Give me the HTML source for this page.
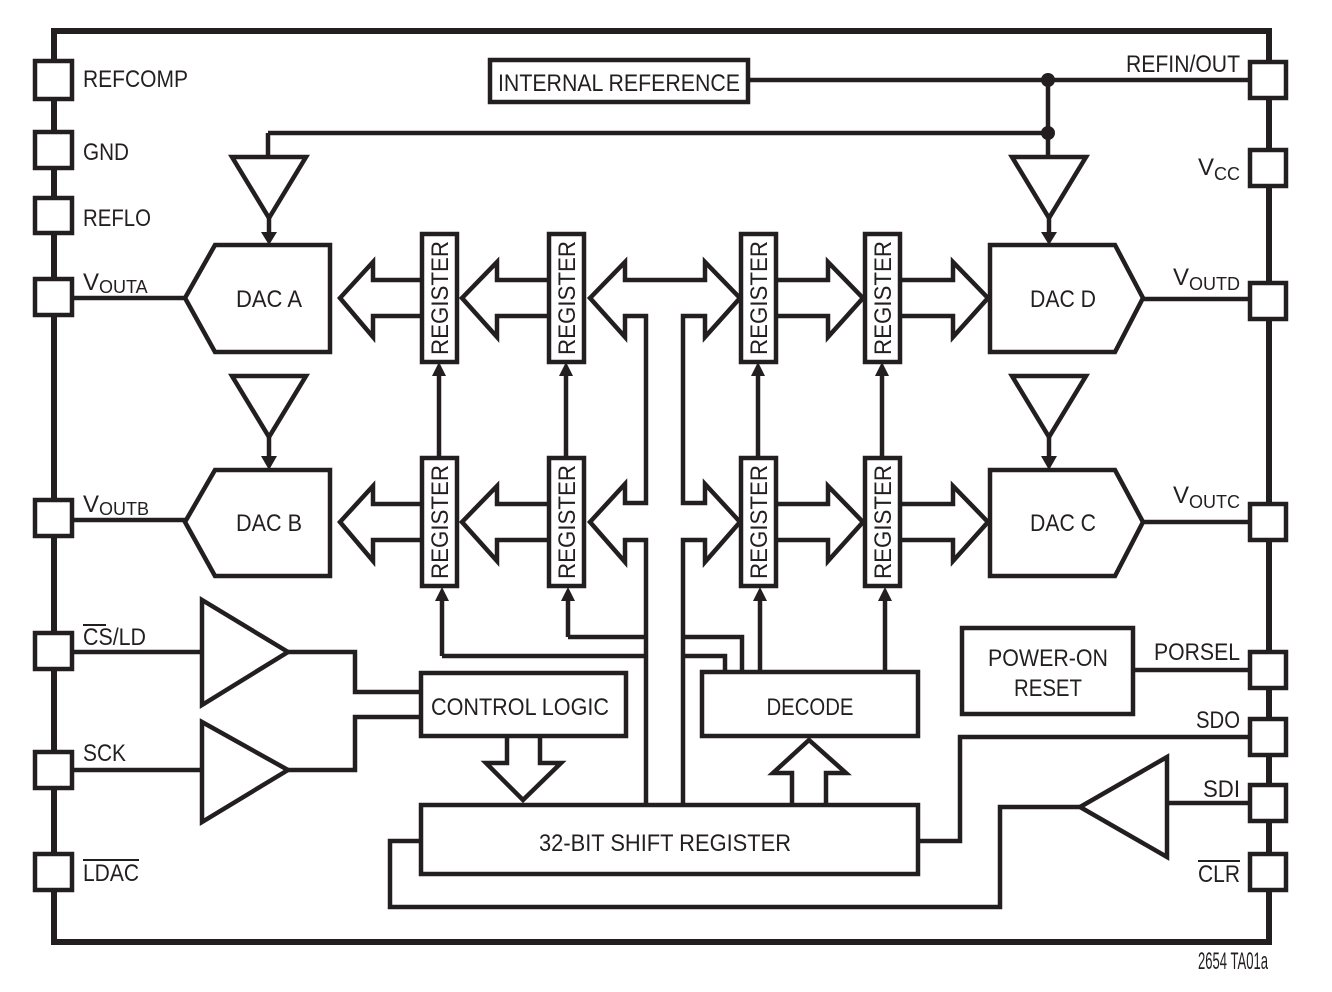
<!DOCTYPE html>
<html><head><meta charset="utf-8"><style>
html,body{margin:0;padding:0;background:#fff}
svg{display:block}
text{font-family:"Liberation Sans Narrow","Liberation Sans",sans-serif;fill:#231f20;font-size:24px}
</style></head><body>
<svg width="1332" height="992" viewBox="0 0 1332 992" xmlns="http://www.w3.org/2000/svg">
<g fill="none" stroke="#231f20" stroke-width="4.5" stroke-linejoin="miter">
<rect x="54" y="31" width="1215" height="911" stroke-width="6"/>
<g fill="#fff">
<rect x="35" y="61" width="37" height="38"/>
<rect x="35" y="132" width="37" height="36"/>
<rect x="35" y="198" width="37" height="35"/>
<rect x="35" y="279" width="37" height="36"/>
<rect x="35" y="500" width="37" height="36"/>
<rect x="35" y="633" width="37" height="36"/>
<rect x="35" y="752" width="37" height="36"/>
<rect x="35" y="854" width="37" height="36"/>
<rect x="1250" y="62" width="36" height="36"/>
<rect x="1250" y="150" width="36" height="36"/>
<rect x="1250" y="283" width="36" height="36"/>
<rect x="1250" y="504" width="36" height="36"/>
<rect x="1250" y="652" width="36" height="36"/>
<rect x="1250" y="719" width="36" height="36"/>
<rect x="1250" y="785" width="36" height="36"/>
<rect x="1250" y="854" width="36" height="36"/>
</g>
<rect x="490" y="60" width="258" height="42"/>
<path d="M748 80H1250M1048 80V157M268 133H1048M268 133V157"/>
<path d="M232 157H306L269 218Z M1012 157H1086L1049 218Z M232 376H306L269 437Z M1012 376H1086L1049 437Z"/>
<path d="M269 218V236M1049 218V236M269 437V460M1049 437V460"/>
<path d="M185 298L215 245H330V352H215Z"/>
<path d="M185 522L215 470H330V576H215Z"/>
<path d="M990 245H1115L1143 298L1115 352H990Z"/>
<path d="M990 470H1115L1143 522L1115 576H990Z"/>
<path d="M72 298H185M72 520H185M1143 299H1250M1143 522H1250"/>
<g fill="#fff">
<rect x="422" y="234" width="35" height="128"/>
<rect x="549" y="234" width="35" height="128"/>
<rect x="741" y="234" width="35" height="128"/>
<rect x="865" y="234" width="35" height="128"/>
<rect x="422" y="458" width="35" height="128"/>
<rect x="549" y="458" width="35" height="128"/>
<rect x="741" y="458" width="35" height="128"/>
<rect x="865" y="458" width="35" height="128"/>
</g>
<path d="M422 280H373V262L340 298L373 337V316H422"/>
<path d="M549 280H497V262L462 298L497 337V316H549"/>
<path d="M776 280H828V262L863 298L828 337V316H776"/>
<path d="M900 280H953V262L988 298L953 337V316H900"/>
<path d="M422 504H373V486L340 522L373 561V540H422"/>
<path d="M549 504H497V486L462 522L497 561V540H549"/>
<path d="M776 504H828V486L863 522L828 561V540H776"/>
<path d="M900 504H953V486L988 522L953 561V540H900"/>
<path d="M646 805V540H625V562L590 522L625 484V503H646V316H625V337L590 298L625 262V280H705V262L740 298L705 337V316H683V503H705V484L740 522L705 562V540H683V805"/>
<path d="M439 458V375M566 458V375M758 458V375M882 458V375"/>
<path d="M442 656V600M442 656H646M568 637V600M568 637H646M683 637H742V672M683 656H725V672M760 672V600M885 672V600"/>
<rect x="421" y="673" width="205" height="63"/>
<rect x="702" y="672" width="216" height="64"/>
<rect x="421" y="805" width="497" height="69"/>
<path d="M507 736V763H486L523 800L561 763H540V736"/>
<path d="M792 805V773H773L809 740L846 773H826V805"/>
<path d="M421 841H390V907H1000V807H1080"/>
<path d="M918 841H960V737H1250"/>
<path d="M1167 757V857L1080 807Z M1167 803H1250"/>
<path d="M202 600V705L288 652Z M202 722V822L288 770Z"/>
<path d="M72 652H202M72 770H202M288 652H355V692H421M288 770H355V717H421"/>
<rect x="962" y="628" width="171" height="86"/>
<path d="M1133 670H1250"/>
</g>
<g fill="#231f20">
<circle cx="1048" cy="80" r="7"/><circle cx="1048" cy="133" r="7"/>
<path d="M261 232H277L269 245Z M1041 232H1057L1049 245Z M261 456H277L269 470Z M1041 456H1057L1049 470Z"/>
<path d="M432 376H446L439 362Z M559 376H573L566 362Z M751 376H765L758 362Z M875 376H889L882 362Z"/>
<path d="M435 601H449L442 587Z M561 601H575L568 587Z M753 601H767L760 587Z M878 601H892L885 587Z"/>
</g>
<text x="619" y="91" text-anchor="middle" textLength="242" lengthAdjust="spacingAndGlyphs">INTERNAL REFERENCE</text>
<text x="83" y="87" textLength="105" lengthAdjust="spacingAndGlyphs">REFCOMP</text>
<text x="83" y="160" textLength="46" lengthAdjust="spacingAndGlyphs">GND</text>
<text x="83" y="226" textLength="68" lengthAdjust="spacingAndGlyphs">REFLO</text>
<text x="83" y="290">V<tspan font-size="18" dy="3">OUTA</tspan></text>
<text x="83" y="512">V<tspan font-size="18" dy="3">OUTB</tspan></text>
<text x="83" y="645" textLength="63" lengthAdjust="spacingAndGlyphs">CS/LD</text>
<line x1="83" y1="625" x2="106" y2="625" stroke="#231f20" stroke-width="2"/>
<text x="83" y="761" textLength="43" lengthAdjust="spacingAndGlyphs">SCK</text>
<text x="83" y="881" textLength="56" lengthAdjust="spacingAndGlyphs">LDAC</text>
<line x1="83" y1="860" x2="139" y2="860" stroke="#231f20" stroke-width="2"/>
<text x="1240" y="72" text-anchor="end" textLength="114" lengthAdjust="spacingAndGlyphs">REFIN/OUT</text>
<text x="1240" y="175" text-anchor="end">V<tspan font-size="18" dy="5">CC</tspan></text>
<text x="1240" y="285" text-anchor="end">V<tspan font-size="18" dy="5">OUTD</tspan></text>
<text x="1240" y="503" text-anchor="end">V<tspan font-size="18" dy="5">OUTC</tspan></text>
<text x="1240" y="660" text-anchor="end" textLength="86" lengthAdjust="spacingAndGlyphs">PORSEL</text>
<text x="1240" y="728" text-anchor="end" textLength="44" lengthAdjust="spacingAndGlyphs">SDO</text>
<text x="1240" y="797" text-anchor="end" textLength="37" lengthAdjust="spacingAndGlyphs">SDI</text>
<text x="1240" y="882" text-anchor="end" textLength="42" lengthAdjust="spacingAndGlyphs">CLR</text>
<line x1="1198" y1="861" x2="1240" y2="861" stroke="#231f20" stroke-width="2"/>
<text x="269" y="307" text-anchor="middle" textLength="66" lengthAdjust="spacingAndGlyphs">DAC A</text>
<text x="269" y="531" text-anchor="middle" textLength="66" lengthAdjust="spacingAndGlyphs">DAC B</text>
<text x="1063" y="307" text-anchor="middle" textLength="66" lengthAdjust="spacingAndGlyphs">DAC D</text>
<text x="1063" y="531" text-anchor="middle" textLength="66" lengthAdjust="spacingAndGlyphs">DAC C</text>
<text x="520" y="715" text-anchor="middle" textLength="178" lengthAdjust="spacingAndGlyphs">CONTROL LOGIC</text>
<text x="810" y="715" text-anchor="middle" textLength="87" lengthAdjust="spacingAndGlyphs">DECODE</text>
<text x="665" y="851" text-anchor="middle" textLength="252" lengthAdjust="spacingAndGlyphs">32-BIT SHIFT REGISTER</text>
<text x="1048" y="666" text-anchor="middle" textLength="120" lengthAdjust="spacingAndGlyphs">POWER-ON</text>
<text x="1048" y="696" text-anchor="middle" textLength="68" lengthAdjust="spacingAndGlyphs">RESET</text>
<g font-size="22">
<text transform="translate(448,298) rotate(-90)" text-anchor="middle" textLength="114" lengthAdjust="spacingAndGlyphs">REGISTER</text>
<text transform="translate(575,298) rotate(-90)" text-anchor="middle" textLength="114" lengthAdjust="spacingAndGlyphs">REGISTER</text>
<text transform="translate(767,298) rotate(-90)" text-anchor="middle" textLength="114" lengthAdjust="spacingAndGlyphs">REGISTER</text>
<text transform="translate(891,298) rotate(-90)" text-anchor="middle" textLength="114" lengthAdjust="spacingAndGlyphs">REGISTER</text>
<text transform="translate(448,522) rotate(-90)" text-anchor="middle" textLength="114" lengthAdjust="spacingAndGlyphs">REGISTER</text>
<text transform="translate(575,522) rotate(-90)" text-anchor="middle" textLength="114" lengthAdjust="spacingAndGlyphs">REGISTER</text>
<text transform="translate(767,522) rotate(-90)" text-anchor="middle" textLength="114" lengthAdjust="spacingAndGlyphs">REGISTER</text>
<text transform="translate(891,522) rotate(-90)" text-anchor="middle" textLength="114" lengthAdjust="spacingAndGlyphs">REGISTER</text>
</g>
<text x="1268" y="969" text-anchor="end" font-size="12" textLength="70" lengthAdjust="spacingAndGlyphs">2654 TA01a</text>
</svg>
</body></html>
